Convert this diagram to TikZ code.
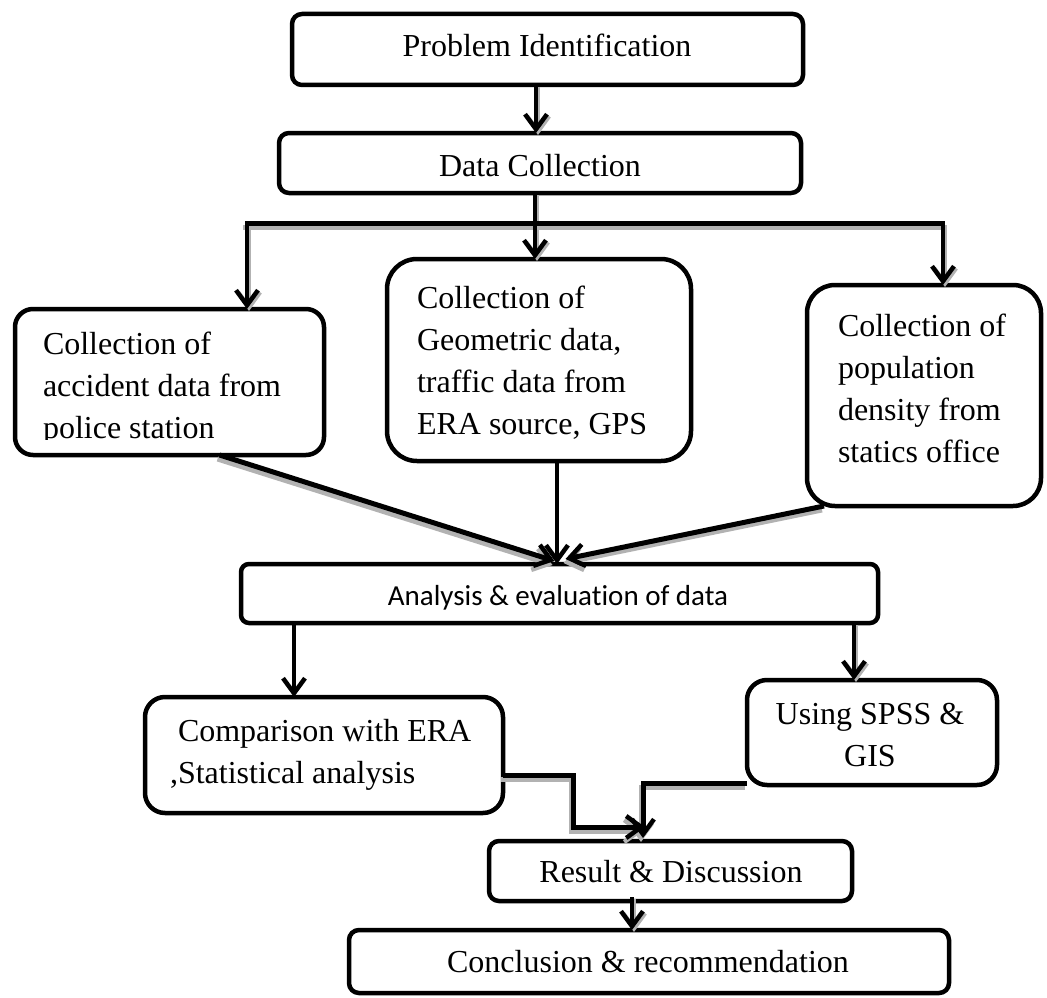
\documentclass[tikz,border=0pt]{standalone}
\usepackage{fontspec}
\setmainfont{Liberation Serif}
\newfontfamily\carlitofont[Ligatures=NoCommon]{Carlito}
\usetikzlibrary{arrows.meta,calc}
\begin{document}
\begin{tikzpicture}[x=1pt,y=-1pt,
  box/.style={draw, line width=4.5pt, inner sep=0pt, outer sep=0pt},
  txt/.style={inner sep=0pt, outer sep=0pt, font=\fontsize{32}{42}\selectfont, align=left},
  tip/.style={-{Straight Barb[length=15pt,width=22pt,line width=4.5pt]}},
  arr/.style={line width=3.5pt, tip},
  thickarr/.style={line width=5pt, tip},
  bar/.style={line width=5pt},
  shade/.style={draw=gray!60}
]
\useasboundingbox (0,0) rectangle (1047,998);

% boxes
\node[box, rounded corners=10pt, minimum width=511pt, minimum height=71pt] (p) at (547.5,49.5) {};
\node[box, rounded corners=10pt, minimum width=522pt, minimum height=60pt] (d) at (540,163) {};
\node[box, rounded corners=18pt, minimum width=309pt, minimum height=146pt] (a) at (169.5,382) {};
\node[box, rounded corners=30pt, minimum width=304pt, minimum height=202pt] (g) at (539,360) {};
\node[box, rounded corners=28pt, minimum width=234pt, minimum height=221pt] (r) at (924,395.5) {};
\node[box, rounded corners=8pt, minimum width=637pt, minimum height=59pt] (an) at (559.5,593.5) {};
\node[box, rounded corners=20pt, minimum width=358pt, minimum height=116pt] (c) at (324,755) {};
\node[box, rounded corners=20pt, minimum width=250pt, minimum height=105pt] (s) at (872,732.5) {};
\node[box, rounded corners=10pt, minimum width=363pt, minimum height=60pt] (res) at (670.5,871) {};
\node[box, rounded corners=10pt, minimum width=600pt, minimum height=63pt] (con) at (649,961.5) {};

% texts (base anchor of a multi-line node = baseline of its last line)
\node[txt, anchor=base] (tp) at (547,57) {Problem Identification};
\node[txt, anchor=base] (td) at (540,176) {Data Collection};
\begin{scope}
  \clip (0,0) rectangle (1047,439);
  \node[txt, anchor=base west] (ta) at (43,438) {Collection of\\accident data from\\police station};
\end{scope}
\node[txt, anchor=base west] (tg) at (417,434) {Collection of\\Geometric data,\\traffic data from\\ERA source, GPS};
\node[txt, anchor=base west] (tr) at (838,462) {Collection of\\population\\density from\\statics office};
\node[inner sep=0pt, font=\carlitofont\fontsize{29}{35}\selectfont, anchor=base] (tan) at (558,605) {Analysis \& evaluation of data};
\node[txt, anchor=base west] (tc) at (170,783) {\hspace*{8pt}Comparison with ERA\\,Statistical analysis};
\node[txt, align=center, anchor=base] (ts) at (870,766) {Using SPSS \&\\GIS};
\node[txt, anchor=base] (tres) at (671,882) {Result \& Discussion};
\node[txt, anchor=base] (tcon) at (648,972) {Conclusion \& recommendation};

% helper coordinates
\coordinate (xp) at (536,0);
\coordinate (xm) at (535,0);
\coordinate (bl) at (247,223);
\coordinate (br) at (943,223);
\coordinate (xg) at (557,0);
\coordinate (xc) at (294,0);
\coordinate (xs) at (854,0);
\coordinate (cx1) at (573,775);
\coordinate (tip1) at (645,827);
\coordinate (sx1) at (643,783);
\coordinate (xr) at (632,0);

% gray shadows of the heavy connectors (offset down-left)
\begin{scope}[transform canvas={xshift=-2pt,yshift=-4pt}]
  \draw[bar, shade] ([xshift=-2pt]bl) -- ([xshift=2pt]br);
  \draw[thickarr, shade] ([xshift=50pt]a.south) -- ([xshift=-5pt,yshift=3pt]an.north);
  \draw[thickarr, shade] ([xshift=-100pt]r.south) -- ([xshift=6pt,yshift=5pt]an.north);
  \draw[thickarr, shade] (c.east |- cx1) -- (cx1) |- (tip1);
  \draw[thickarr, shade] (s.west |- sx1) -| ([yshift=3pt]res.north -| sx1);
\end{scope}
\begin{scope}[transform canvas={xshift=2pt,yshift=-2pt}]
  \draw[arr, shade] (p.south -| xp) -- (d.north -| xp);
  \draw[arr, shade] (d.south -| xm) -- (g.north -| xm);
  \draw[arr, shade] (bl) -- (bl |- a.north);
  \draw[arr, shade] (br) -- (br |- r.north);
  \draw[arr, shade] (an.south -| xs) -- (s.north -| xs);
  \draw[arr, shade] ([yshift=4pt]res.south -| xr) -- (con.north -| xr);
\end{scope}

% connectors
\draw[arr] (p.south -| xp) -- (d.north -| xp);
\draw[bar] ([xshift=-2pt]bl) -- ([xshift=2pt]br);
\draw[arr] (d.south -| xm) -- (g.north -| xm);
\draw[arr] (bl) -- (bl |- a.north);
\draw[arr] (br) -- (br |- r.north);
\draw[thickarr] ([xshift=50pt]a.south) -- ([xshift=-5pt,yshift=3pt]an.north);
\draw[arr] (g.south -| xg) -- (an.north -| xg);
\draw[thickarr] ([xshift=-100pt]r.south) -- ([xshift=6pt,yshift=5pt]an.north);
\draw[arr] (an.south -| xc) -- (c.north -| xc);
\draw[arr] (an.south -| xs) -- (s.north -| xs);
\draw[thickarr] (c.east |- cx1) -- (cx1) |- (tip1);
\draw[thickarr] (s.west |- sx1) -| ([yshift=3pt]res.north -| sx1);
\draw[arr] ([yshift=4pt]res.south -| xr) -- (con.north -| xr);
\end{tikzpicture}
\end{document}
